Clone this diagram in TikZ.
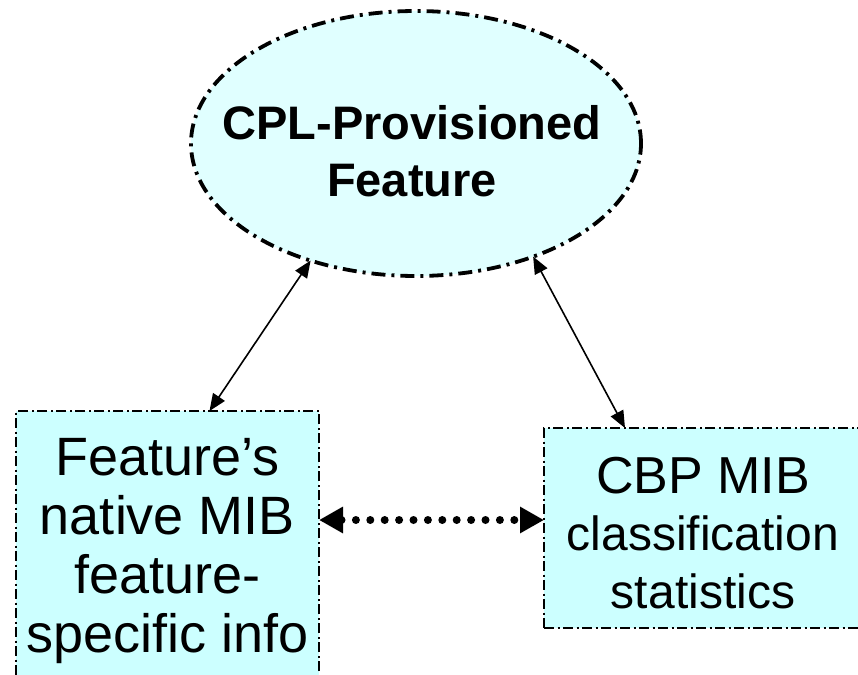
\documentclass[tikz,border=0pt]{standalone}
\usepackage{fontspec}
\setmainfont{Liberation Sans}
\usetikzlibrary{arrows.meta,shapes.geometric}
\definecolor{ellfill}{HTML}{E0FFFF}
\definecolor{boxfill}{HTML}{CCFFFF}
\tikzset{
  ellstyle/.style={ellipse, draw, fill=ellfill, line width=3.8pt, inner sep=0pt, outer sep=0pt,
    minimum width=450pt, minimum height=265pt, dash pattern=on 14pt off 6pt on 3pt off 6pt},
  elltext/.style={align=center, inner sep=0pt, font=\bfseries\fontsize{47}{57}\selectfont},
  boxstyle/.style={rectangle, draw, fill=boxfill, line width=2pt, inner sep=0pt, outer sep=0pt,
    dash pattern=on 10pt off 3.5pt on 2pt off 3.5pt, align=center},
  link/.style={line width=1.6pt, {Triangle[length=17pt,width=14pt]}-{Triangle[length=17pt,width=14pt]}},
  dotlink/.style={line width=8pt, line cap=round, dash pattern=on 0pt off 14.4pt,
    {Triangle[length=24pt,width=25pt]}-{Triangle[length=24pt,width=25pt]}}
}
\begin{document}
\begin{tikzpicture}[x=1pt,y=-1pt]
\useasboundingbox (0,0) rectangle (858,674);
\node[ellstyle] (ell) at (416,143.5) {};
\node[elltext] (etext) at (412,151) {CPL-Provisioned\\Feature};
\node[boxstyle, minimum width=303pt, minimum height=280pt, font=\fontsize{54}{59}\selectfont] (lbox) at (167.5,551)
  {Feature’s\\native MIB\\feature-\\specific info};
\node[boxstyle, minimum width=318pt, minimum height=200pt] (rbox) at (703,528) {};
\node[align=center, inner sep=0pt, font=\fontsize{48}{57.5}\selectfont] (rtext) at (703,533)
  {{\fontsize{52}{57.5}\selectfont CBP MIB}\\classification\\statistics};
\draw[link] ([xshift=42pt]lbox.north) -- (ell.228);
\draw[link] (ell.316) -- ([xshift=-78pt]rbox.north);
\draw[dotlink] ([yshift=31pt]lbox.east) -- ([yshift=31pt]lbox.east -| rbox.west);
\end{tikzpicture}
\end{document}
